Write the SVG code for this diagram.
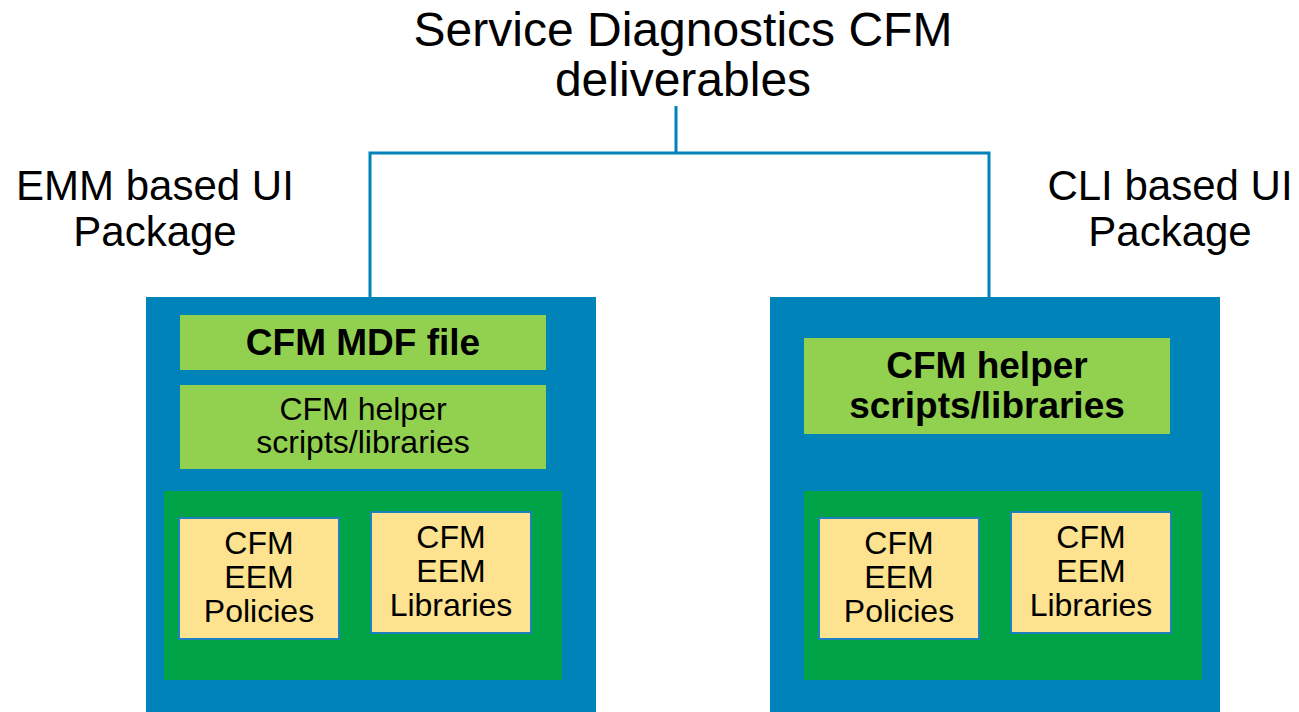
<svg xmlns="http://www.w3.org/2000/svg" width="1299" height="712" viewBox="0 0 1299 712">
<style>
.t{font-family:"Liberation Sans",Arial,sans-serif;fill:#000;text-anchor:middle}
.big{font-size:48px}
.lbl{font-size:42px}
.reg{font-size:32px}
.bold{font-size:37px;font-weight:bold}
.pkg{fill:#0083b9}
.lg{fill:#92d050}
.dg{fill:#00a346}
.yl{fill:#fde28f;stroke:#1f80c0;stroke-width:2}
.conn{fill:none;stroke:#0083b9;stroke-width:3}
</style>
<rect width="1299" height="712" fill="#fff"/>
<g id="connectors">
<path class="conn" d="M676 106V153"/>
<path class="conn" d="M370 297V153H989V297" stroke-width="2.5"/>
</g>
<g id="title">
<text class="t big" x="683" y="46">Service Diagnostics CFM</text>
<text class="t big" x="683" y="96">deliverables</text>
</g>
<g id="emm-label">
<text class="t lbl" x="155" y="200">EMM based UI</text>
<text class="t lbl" x="155" y="246">Package</text>
</g>
<g id="cli-label">
<text class="t lbl" x="1170" y="200">CLI based UI</text>
<text class="t lbl" x="1170" y="246">Package</text>
</g>
<g id="emm-package">
<rect class="pkg" x="146" y="297" width="450" height="415"/>
<g id="emm-mdf">
<rect class="lg" x="180" y="315" width="366" height="55"/>
<text class="t bold" x="363" y="355">CFM MDF file</text>
</g>
<g id="emm-helper">
<rect class="lg" x="180" y="385" width="366" height="84"/>
<text class="t reg" x="363" y="420">CFM helper</text>
<text class="t reg" x="363" y="453">scripts/libraries</text>
</g>
<g id="emm-eem">
<rect class="dg" x="164" y="491" width="398" height="189"/>
<g id="emm-policies">
<rect class="yl" x="179" y="518" width="160" height="121"/>
<text class="t reg" x="259" y="554">CFM</text>
<text class="t reg" x="259" y="588">EEM</text>
<text class="t reg" x="259" y="622">Policies</text>
</g>
<g id="emm-libraries">
<rect class="yl" x="371" y="512" width="160" height="121"/>
<text class="t reg" x="451" y="548">CFM</text>
<text class="t reg" x="451" y="582">EEM</text>
<text class="t reg" x="451" y="616">Libraries</text>
</g>
</g>
</g>
<g id="cli-package">
<rect class="pkg" x="770" y="297" width="450" height="415"/>
<g id="cli-helper">
<rect class="lg" x="804" y="338" width="366" height="96"/>
<text class="t bold" x="987" y="378">CFM helper</text>
<text class="t bold" x="987" y="418">scripts/libraries</text>
</g>
<g id="cli-eem">
<rect class="dg" x="804" y="491" width="398" height="189"/>
<g id="cli-policies">
<rect class="yl" x="819" y="518" width="160" height="121"/>
<text class="t reg" x="899" y="554">CFM</text>
<text class="t reg" x="899" y="588">EEM</text>
<text class="t reg" x="899" y="622">Policies</text>
</g>
<g id="cli-libraries">
<rect class="yl" x="1011" y="512" width="160" height="121"/>
<text class="t reg" x="1091" y="548">CFM</text>
<text class="t reg" x="1091" y="582">EEM</text>
<text class="t reg" x="1091" y="616">Libraries</text>
</g>
</g>
</g>
</svg>
